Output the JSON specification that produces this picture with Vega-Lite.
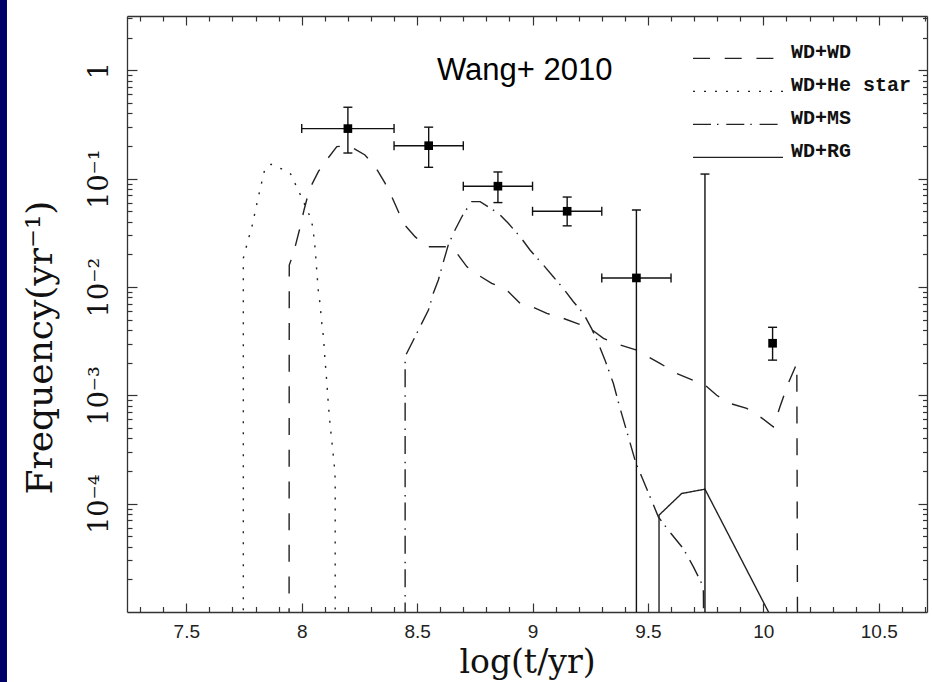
{
  "$schema": "https://vega.github.io/schema/vega-lite/v6.json",
  "width": 800,
  "height": 596,
  "autosize": {"type": "none"},
  "padding": {"left": 127, "top": 16, "right": 5, "bottom": 70},
  "background": "white",
  "config": {"view": {"stroke": null}, "axis": {"grid": false}},
  "datasets": {
    "curves": [
      {"series": "WD+He star", "t": 7.747, "f": 0.000001},
      {"series": "WD+He star", "t": 7.747, "f": 0.0184},
      {"series": "WD+He star", "t": 7.764, "f": 0.0253},
      {"series": "WD+He star", "t": 7.776, "f": 0.0313},
      {"series": "WD+He star", "t": 7.788, "f": 0.0387},
      {"series": "WD+He star", "t": 7.798, "f": 0.0494},
      {"series": "WD+He star", "t": 7.808, "f": 0.0621},
      {"series": "WD+He star", "t": 7.819, "f": 0.0785},
      {"series": "WD+He star", "t": 7.829, "f": 0.097},
      {"series": "WD+He star", "t": 7.841, "f": 0.1245},
      {"series": "WD+He star", "t": 7.867, "f": 0.1355},
      {"series": "WD+He star", "t": 7.913, "f": 0.1227},
      {"series": "WD+He star", "t": 7.952, "f": 0.1103},
      {"series": "WD+He star", "t": 7.974, "f": 0.0873},
      {"series": "WD+He star", "t": 7.993, "f": 0.0716},
      {"series": "WD+He star", "t": 8.014, "f": 0.057},
      {"series": "WD+He star", "t": 8.033, "f": 0.0461},
      {"series": "WD+He star", "t": 8.048, "f": 0.036},
      {"series": "WD+He star", "t": 8.058, "f": 0.0227},
      {"series": "WD+He star", "t": 8.065, "f": 0.0143},
      {"series": "WD+He star", "t": 8.072, "f": 0.00903},
      {"series": "WD+He star", "t": 8.079, "f": 0.0071},
      {"series": "WD+He star", "t": 8.087, "f": 0.00461},
      {"series": "WD+He star", "t": 8.094, "f": 0.00347},
      {"series": "WD+He star", "t": 8.101, "f": 0.00211},
      {"series": "WD+He star", "t": 8.108, "f": 0.00138},
      {"series": "WD+He star", "t": 8.115, "f": 0.000841},
      {"series": "WD+He star", "t": 8.123, "f": 0.000531},
      {"series": "WD+He star", "t": 8.133, "f": 0.000335},
      {"series": "WD+He star", "t": 8.143, "f": 0.000204},
      {"series": "WD+He star", "t": 8.145, "f": 0.000165},
      {"series": "WD+He star", "t": 8.145, "f": 0.000001},
      {"series": "WD+WD", "t": 7.945, "f": 0.000001},
      {"series": "WD+WD", "t": 7.946, "f": 0.0159},
      {"series": "WD+WD", "t": 7.964, "f": 0.0204},
      {"series": "WD+WD", "t": 7.99, "f": 0.0335},
      {"series": "WD+WD", "t": 8.01, "f": 0.0513},
      {"series": "WD+WD", "t": 8.029, "f": 0.0731},
      {"series": "WD+WD", "t": 8.043, "f": 0.0873},
      {"series": "WD+WD", "t": 8.072, "f": 0.1159},
      {"series": "WD+WD", "t": 8.108, "f": 0.1486},
      {"series": "WD+WD", "t": 8.152, "f": 0.197},
      {"series": "WD+WD", "t": 8.195, "f": 0.2},
      {"series": "WD+WD", "t": 8.224, "f": 0.1905},
      {"series": "WD+WD", "t": 8.274, "f": 0.165},
      {"series": "WD+WD", "t": 8.318, "f": 0.129},
      {"series": "WD+WD", "t": 8.361, "f": 0.0906},
      {"series": "WD+WD", "t": 8.39, "f": 0.0681},
      {"series": "WD+WD", "t": 8.419, "f": 0.0494},
      {"series": "WD+WD", "t": 8.44, "f": 0.0386},
      {"series": "WD+WD", "t": 8.491, "f": 0.0291},
      {"series": "WD+WD", "t": 8.542, "f": 0.0235},
      {"series": "WD+WD", "t": 8.628, "f": 0.0235},
      {"series": "WD+WD", "t": 8.664, "f": 0.0216},
      {"series": "WD+WD", "t": 8.715, "f": 0.0154},
      {"series": "WD+WD", "t": 8.751, "f": 0.0134},
      {"series": "WD+WD", "t": 8.823, "f": 0.0108},
      {"series": "WD+WD", "t": 8.888, "f": 0.00936},
      {"series": "WD+WD", "t": 8.946, "f": 0.00706},
      {"series": "WD+WD", "t": 8.997, "f": 0.00657},
      {"series": "WD+WD", "t": 9.062, "f": 0.0057},
      {"series": "WD+WD", "t": 9.133, "f": 0.00513},
      {"series": "WD+WD", "t": 9.192, "f": 0.00461},
      {"series": "WD+WD", "t": 9.249, "f": 0.00415},
      {"series": "WD+WD", "t": 9.307, "f": 0.00335},
      {"series": "WD+WD", "t": 9.379, "f": 0.00291},
      {"series": "WD+WD", "t": 9.451, "f": 0.00261},
      {"series": "WD+WD", "t": 9.552, "f": 0.00197},
      {"series": "WD+WD", "t": 9.625, "f": 0.00159},
      {"series": "WD+WD", "t": 9.747, "f": 0.00124},
      {"series": "WD+WD", "t": 9.798, "f": 0.001},
      {"series": "WD+WD", "t": 9.856, "f": 0.000841},
      {"series": "WD+WD", "t": 9.928, "f": 0.000757},
      {"series": "WD+WD", "t": 9.986, "f": 0.000633},
      {"series": "WD+WD", "t": 10.043, "f": 0.000512},
      {"series": "WD+WD", "t": 10.072, "f": 0.000783},
      {"series": "WD+WD", "t": 10.108, "f": 0.00129},
      {"series": "WD+WD", "t": 10.145, "f": 0.00197},
      {"series": "WD+WD", "t": 10.149, "f": 0.000001},
      {"series": "WD+MS", "t": 8.448, "f": 0.000001},
      {"series": "WD+MS", "t": 8.448, "f": 0.00227},
      {"series": "WD+MS", "t": 8.455, "f": 0.00244},
      {"series": "WD+MS", "t": 8.491, "f": 0.00347},
      {"series": "WD+MS", "t": 8.52, "f": 0.00461},
      {"series": "WD+MS", "t": 8.549, "f": 0.00612},
      {"series": "WD+MS", "t": 8.57, "f": 0.00873},
      {"series": "WD+MS", "t": 8.592, "f": 0.0116},
      {"series": "WD+MS", "t": 8.614, "f": 0.0171},
      {"series": "WD+MS", "t": 8.635, "f": 0.0244},
      {"series": "WD+MS", "t": 8.664, "f": 0.0335},
      {"series": "WD+MS", "t": 8.7, "f": 0.0471},
      {"series": "WD+MS", "t": 8.737, "f": 0.0612},
      {"series": "WD+MS", "t": 8.773, "f": 0.0612},
      {"series": "WD+MS", "t": 8.852, "f": 0.0478},
      {"series": "WD+MS", "t": 8.895, "f": 0.0386},
      {"series": "WD+MS", "t": 8.946, "f": 0.0291},
      {"series": "WD+MS", "t": 8.989, "f": 0.0219},
      {"series": "WD+MS", "t": 9.047, "f": 0.0159},
      {"series": "WD+MS", "t": 9.09, "f": 0.0124},
      {"series": "WD+MS", "t": 9.133, "f": 0.0097},
      {"series": "WD+MS", "t": 9.177, "f": 0.0073},
      {"series": "WD+MS", "t": 9.22, "f": 0.0057},
      {"series": "WD+MS", "t": 9.257, "f": 0.00408},
      {"series": "WD+MS", "t": 9.285, "f": 0.00301},
      {"series": "WD+MS", "t": 9.314, "f": 0.00211},
      {"series": "WD+MS", "t": 9.35, "f": 0.00129},
      {"series": "WD+MS", "t": 9.379, "f": 0.00076},
      {"series": "WD+MS", "t": 9.415, "f": 0.000414},
      {"series": "WD+MS", "t": 9.448, "f": 0.000235},
      {"series": "WD+MS", "t": 9.473, "f": 0.000177},
      {"series": "WD+MS", "t": 9.509, "f": 0.000116},
      {"series": "WD+MS", "t": 9.545, "f": 0.0000755},
      {"series": "WD+MS", "t": 9.588, "f": 0.0000569},
      {"series": "WD+MS", "t": 9.653, "f": 0.0000385},
      {"series": "WD+MS", "t": 9.697, "f": 0.0000261},
      {"series": "WD+MS", "t": 9.74, "f": 0.0000171},
      {"series": "WD+MS", "t": 9.745, "f": 0.000001},
      {"series": "WD+RG", "t": 9.548, "f": 0.000001},
      {"series": "WD+RG", "t": 9.548, "f": 0.0000783},
      {"series": "WD+RG", "t": 9.646, "f": 0.000124},
      {"series": "WD+RG", "t": 9.747, "f": 0.000136},
      {"series": "WD+RG", "t": 10.03, "f": 0.0000093}
    ],
    "obs": [
      {"t": 8.2, "f": 0.289, "tlo": 8.0, "thi": 8.4, "flo": 0.172, "fhi": 0.455},
      {"t": 8.55, "f": 0.201, "tlo": 8.4, "thi": 8.7, "flo": 0.127, "fhi": 0.298},
      {"t": 8.85, "f": 0.085, "tlo": 8.7, "thi": 9.0, "flo": 0.06, "fhi": 0.115},
      {"t": 9.15, "f": 0.0499, "tlo": 9.0, "thi": 9.3, "flo": 0.0366, "fhi": 0.0675},
      {"t": 9.45, "f": 0.0121, "tlo": 9.3, "thi": 9.6, "flo": 0.000001, "fhi": 0.0513},
      {"t": 9.747, "f": null, "tlo": null, "thi": null, "flo": 0.000001, "fhi": 0.11},
      {"t": 10.04, "f": 0.00302, "tlo": null, "thi": null, "flo": 0.00211, "fhi": 0.00424}
    ]
  },
  "resolve": {"axis": {"x": "independent", "y": "independent"}},
  "layer": [
    {
      "data": {"name": "curves"},
      "mark": {"type": "line", "clip": true, "color": "#222", "strokeWidth": 1.4},
      "encoding": {
        "x": {
          "field": "t", "type": "quantitative",
          "scale": {"type": "linear", "domain": [7.243, 10.709], "nice": false, "zero": false},
          "axis": {
            "orient": "bottom", "values": [7.5, 8, 8.5, 9, 9.5, 10, 10.5],
            "labelExpr": "toString(datum.value)",
            "tickSize": -9, "tickWidth": 1.2, "tickColor": "#333",
            "domain": true, "domainColor": "#333", "domainWidth": 1.3,
            "labelFont": "Liberation Sans", "labelFontSize": 19, "labelColor": "#222",
            "labelPadding": 34, "labelBaseline": "alphabetic", "labelAngle": 0,
            "labelFlush": false, "labelOverlap": false,
            "title": "log(t/yr)", "titleFont": "DejaVu Serif", "titleFontSize": 33,
            "titleFontWeight": "normal", "titleColor": "#111",
            "titleX": 400, "titleY": 60.7, "titleBaseline": "alphabetic", "titleAlign": "center"
          }
        },
        "y": {
          "field": "f", "type": "quantitative",
          "scale": {"type": "log", "domain": [0.00001, 3.1623], "nice": false},
          "axis": {
            "orient": "left", "values": [0.0001, 0.001, 0.01, 0.1, 1],
            "labelExpr": "datum.value >= 0.5 ? '1' : datum.value >= 0.05 ? '10⁻¹' : datum.value >= 0.005 ? '10⁻²' : datum.value >= 0.0005 ? '10⁻³' : '10⁻⁴'",
            "tickSize": -10, "tickWidth": 1.2, "tickColor": "#333",
            "domain": true, "domainColor": "#333", "domainWidth": 1.3,
            "labelFont": "DejaVu Serif", "labelFontSize": 27, "labelColor": "#111",
            "labelAngle": -90, "labelAlign": "center", "labelBaseline": "alphabetic",
            "labelPadding": 30, "labelFlush": false, "labelOverlap": false,
            "title": "Frequency(yr⁻¹)", "titleFont": "DejaVu Serif", "titleFontSize": 36,
            "titleFontWeight": "normal", "titleColor": "#111", "titleAngle": -90,
            "titleX": -76, "titleY": 331, "titleBaseline": "alphabetic", "titleAlign": "center"
          }
        },
        "order": {"value": null},
        "strokeDash": {
          "field": "series", "type": "nominal",
          "scale": {
            "domain": ["WD+WD", "WD+He star", "WD+MS", "WD+RG"],
            "range": [[17, 14.7], [2, 9], [18, 6, 1.5, 7.8], [1, 0]]
          },
          "legend": {
            "orient": "none", "legendX": 565, "legendY": 26.5, "title": null,
            "padding": 0, "symbolType": "stroke", "symbolSize": 8100,
            "symbolStrokeWidth": 1.4, "symbolStrokeColor": "#222",
            "clipHeight": 31.7, "rowPadding": 0,
            "labelFont": "Liberation Mono", "labelFontWeight": "bold", "labelFontSize": 20,
            "labelColor": "#111", "labelOffset": 7, "labelBaseline": "alphabetic"
          }
        }
      }
    },
    {
      "data": {"name": "obs"},
      "mark": {"type": "rule", "clip": true, "color": "#111", "strokeWidth": 1.4},
      "encoding": {
        "x": {
          "field": "t", "type": "quantitative",
          "scale": {"type": "linear", "domain": [7.243, 10.709], "nice": false, "zero": false},
          "axis": {
            "orient": "bottom",
            "values": [7.3, 7.4, 7.6, 7.7, 7.8, 7.9, 8.1, 8.2, 8.3, 8.4, 8.6, 8.7, 8.8, 8.9, 9.1, 9.2, 9.3, 9.4, 9.6, 9.7, 9.8, 9.9, 10.1, 10.2, 10.3, 10.4, 10.6, 10.7],
            "tickSize": -5.5, "tickWidth": 1.2, "tickColor": "#333",
            "domain": false, "labels": false, "title": null
          }
        },
        "y": {
          "field": "flo", "type": "quantitative",
          "scale": {"type": "log", "domain": [0.00001, 3.1623], "nice": false},
          "axis": {
            "orient": "left",
            "values": [0.00002, 0.00003, 0.00004, 0.00005, 0.00006, 0.00007, 0.00008, 0.00009, 0.0002, 0.0003, 0.0004, 0.0005, 0.0006, 0.0007, 0.0008, 0.0009, 0.002, 0.003, 0.004, 0.005, 0.006, 0.007, 0.008, 0.009, 0.02, 0.03, 0.04, 0.05, 0.06, 0.07, 0.08, 0.09, 0.2, 0.3, 0.4, 0.5, 0.6, 0.7, 0.8, 0.9, 2, 3],
            "tickSize": -5, "tickWidth": 1.2, "tickColor": "#333",
            "domain": false, "labels": false, "title": null
          }
        },
        "y2": {"field": "fhi"}
      }
    },
    {
      "data": {"name": "obs"},
      "transform": [{"filter": "isValid(datum.tlo)"}],
      "mark": {"type": "rule", "clip": true, "color": "#111", "strokeWidth": 1.4},
      "encoding": {
        "x": {
          "field": "tlo", "type": "quantitative",
          "scale": {"type": "linear", "domain": [7.243, 10.709], "nice": false, "zero": false},
          "axis": {
            "orient": "top", "values": [7.5, 8, 8.5, 9, 9.5, 10, 10.5],
            "tickSize": -9, "tickWidth": 1.2, "tickColor": "#333",
            "domain": true, "domainColor": "#333", "domainWidth": 1.3,
            "labels": false, "title": null
          }
        },
        "x2": {"field": "thi"},
        "y": {
          "field": "f", "type": "quantitative",
          "scale": {"type": "log", "domain": [0.00001, 3.1623], "nice": false},
          "axis": {
            "orient": "right", "values": [0.0001, 0.001, 0.01, 0.1, 1],
            "tickSize": -9, "tickWidth": 1.2, "tickColor": "#333",
            "domain": true, "domainColor": "#333", "domainWidth": 1.3,
            "labels": false, "title": null
          }
        }
      }
    },
    {
      "data": {"name": "obs"},
      "transform": [{"filter": "isValid(datum.f)"}],
      "mark": {"type": "square", "size": 75, "color": "#000", "filled": true, "opacity": 1},
      "encoding": {
        "x": {
          "field": "t", "type": "quantitative",
          "scale": {"type": "linear", "domain": [7.243, 10.709], "nice": false, "zero": false},
          "axis": {
            "orient": "top",
            "values": [7.3, 7.4, 7.6, 7.7, 7.8, 7.9, 8.1, 8.2, 8.3, 8.4, 8.6, 8.7, 8.8, 8.9, 9.1, 9.2, 9.3, 9.4, 9.6, 9.7, 9.8, 9.9, 10.1, 10.2, 10.3, 10.4, 10.6, 10.7],
            "tickSize": -5, "tickWidth": 1.2, "tickColor": "#333",
            "domain": false, "labels": false, "title": null
          }
        },
        "y": {
          "field": "f", "type": "quantitative",
          "scale": {"type": "log", "domain": [0.00001, 3.1623], "nice": false},
          "axis": {
            "orient": "right",
            "values": [0.00002, 0.00003, 0.00004, 0.00005, 0.00006, 0.00007, 0.00008, 0.00009, 0.0002, 0.0003, 0.0004, 0.0005, 0.0006, 0.0007, 0.0008, 0.0009, 0.002, 0.003, 0.004, 0.005, 0.006, 0.007, 0.008, 0.009, 0.02, 0.03, 0.04, 0.05, 0.06, 0.07, 0.08, 0.09, 0.2, 0.3, 0.4, 0.5, 0.6, 0.7, 0.8, 0.9, 2, 3],
            "tickSize": -4.5, "tickWidth": 1.2, "tickColor": "#333",
            "domain": false, "labels": false, "title": null
          }
        }
      }
    },
    {
      "data": {"name": "obs"},
      "mark": {"type": "tick", "orient": "horizontal", "size": 9, "thickness": 1.4, "color": "#111", "clip": true, "opacity": 1},
      "encoding": {
        "x": {"field": "t", "type": "quantitative", "axis": null},
        "y": {"field": "fhi", "type": "quantitative", "axis": null}
      }
    },
    {
      "data": {"name": "obs"},
      "mark": {"type": "tick", "orient": "horizontal", "size": 9, "thickness": 1.4, "color": "#111", "clip": true, "opacity": 1},
      "encoding": {
        "x": {"field": "t", "type": "quantitative", "axis": null},
        "y": {"field": "flo", "type": "quantitative", "axis": null}
      }
    },
    {
      "data": {"name": "obs"},
      "transform": [{"filter": "isValid(datum.tlo)"}],
      "mark": {"type": "tick", "orient": "vertical", "size": 9, "thickness": 1.4, "color": "#111", "clip": true, "opacity": 1},
      "encoding": {
        "x": {"field": "tlo", "type": "quantitative", "axis": null},
        "y": {"field": "f", "type": "quantitative", "axis": null}
      }
    },
    {
      "data": {"name": "obs"},
      "transform": [{"filter": "isValid(datum.thi)"}],
      "mark": {"type": "tick", "orient": "vertical", "size": 9, "thickness": 1.4, "color": "#111", "clip": true, "opacity": 1},
      "encoding": {
        "x": {"field": "thi", "type": "quantitative", "axis": null},
        "y": {"field": "f", "type": "quantitative", "axis": null}
      }
    },
    {
      "data": {"values": [{"label": "Wang+ 2010"}]},
      "mark": {"type": "text", "font": "Liberation Sans", "fontSize": 31, "color": "#000", "align": "left", "baseline": "alphabetic"},
      "encoding": {
        "x": {"datum": 8.586, "type": "quantitative", "axis": null},
        "y": {"datum": 0.814, "type": "quantitative", "axis": null},
        "text": {"field": "label"}
      }
    },
    {
      "data": {"values": [{"part": "frame"}]},
      "mark": {"type": "rect", "color": "#000066", "clip": false},
      "encoding": {
        "x": {"datum": 6.6927, "type": "quantitative", "axis": null},
        "x2": {"datum": 6.723},
        "y": {"datum": 10, "type": "quantitative", "axis": null},
        "y2": {"datum": 0.000001}
      }
    }
  ]
}
